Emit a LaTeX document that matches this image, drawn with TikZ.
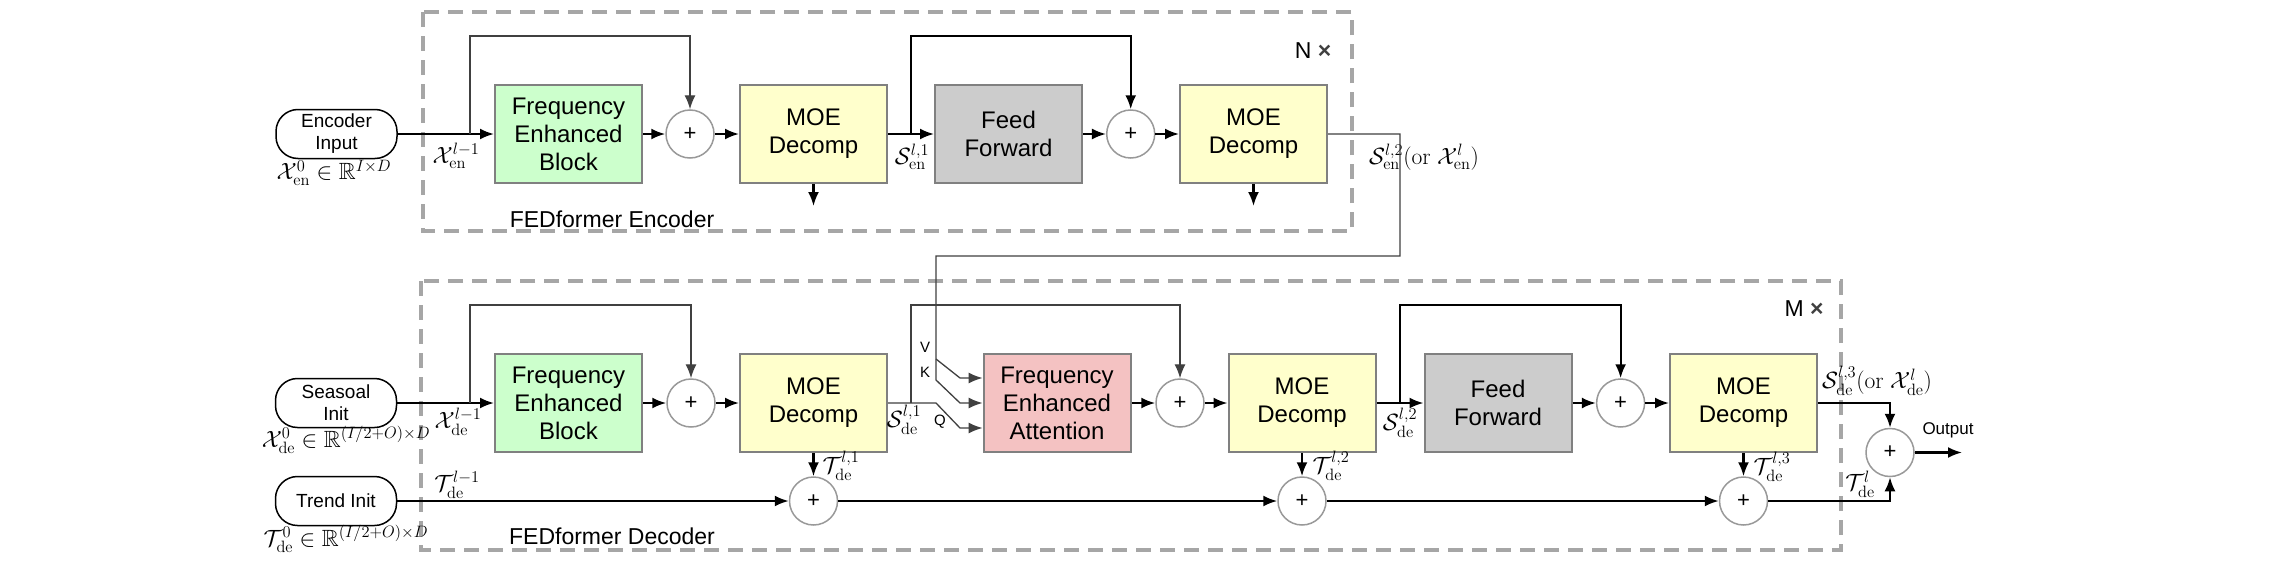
\RequirePackage{fix-cm}
\documentclass[tikz,border=0pt]{standalone}
\usepackage{amsmath}
\usepackage{amssymb}
\usepackage[no-math]{fontspec}
\setmainfont{Liberation Sans}
\usetikzlibrary{arrows.meta}
\usetikzlibrary{positioning}
\definecolor{mgreen}{RGB}{204, 255, 204}
\definecolor{myellow}{RGB}{255, 255, 204}
\definecolor{mgray}{RGB}{204, 204, 204}
\definecolor{mpink}{RGB}{244, 194, 194}
\definecolor{mdash}{RGB}{166, 166, 166}
\definecolor{medge}{RGB}{128, 128, 128}
\tikzset{block/.style = {draw=medge, line width=2pt, minimum width=147pt, minimum height=98pt,
                         inner sep=0pt, align=center, font=\fontsize{24}{28}\selectfont},
         inbox/.style = {draw, line width=1.5pt, rounded corners=22pt, minimum width=121pt,
                         minimum height=49pt, inner sep=0pt, align=center, font=\fontsize{19}{22}\selectfont},
         adder/.style = {circle, draw=medge!80, line width=1.5pt, minimum size=48pt, inner sep=0pt,
                         font=\fontsize{22}{22}\selectfont},
         flow/.style = {line width=2.2pt, -{Latex[length=14pt, width=11pt]}},
         thinflow/.style = {line width=1.3pt, draw=black!75, -{Latex[length=14pt, width=11pt]}},
         outerbox/.style = {draw=mdash, line width=3.5pt, dash pattern=on 15pt off 9pt},
         mlabel/.style = {inner sep=0pt, font=\fontsize{23.5}{27}\selectfont},
         tlabel/.style = {inner sep=0pt, font=\fontsize{23}{27}\selectfont}}

\begin{document}
\begin{tikzpicture}[x=1pt, y=-1pt]
    \useasboundingbox [fill=white] (0, 0) rectangle (2286, 562);

    \draw [outerbox] (423, 12) rectangle (1352, 231);
    \draw [outerbox] (421, 281) rectangle (1841, 550);

    % encoder
    \node [inbox] (encin) at (336.5, 134) {Encoder\\Input};
    \node [block, fill=mgreen] (feben) at (568.5, 134) {Frequency\\Enhanced\\Block};
    \node [adder] (addena) at (690, 134) {+};
    \node [block, fill=myellow] (moeena) at (813.5, 134) {MOE\\Decomp};
    \node [block, fill=mgray] (ffen) at (1008.5, 134) {Feed\\Forward};
    \node [adder] (addenb) at (1130.7, 134) {+};
    \node [block, fill=myellow] (moeenb) at (1253.5, 134) {MOE\\Decomp};

    \node [mlabel] (xenzero) at (334, 173) {$\mathcal{X}_{\mathrm{en}}^{0} \in \mathbb{R}^{I \times D}$};
    \node [mlabel] (xenprev) at (456, 156) {$\mathcal{X}_{\mathrm{en}}^{l-1}$};
    \node [mlabel] (senone) at (912, 157) {$\mathcal{S}_{\mathrm{en}}^{l,1}$};
    \node [mlabel] (sentwo) at (1424, 157) {$\mathcal{S}_{\mathrm{en}}^{l,2}(\mathrm{or}\ \mathcal{X}_{\mathrm{en}}^{l})$};
    \node [tlabel] (nrep) at (1313, 51) {N {\color{black!75}\bfseries ×}};
    \node [tlabel] (enctitle) at (612, 219) {FEDformer Encoder};

    \coordinate (skena) at (470, 134);
    \coordinate (skenb) at (910.7, 134);
    \coordinate (dropena) at (813.5, 206);
    \coordinate (dropenb) at (1253.5, 206);

    \draw [flow] (encin) -- (feben);
    \draw [flow] (feben) -- (addena);
    \draw [flow] (addena) -- (moeena);
    \draw [flow] (moeena) -- (ffen);
    \draw [flow] (ffen) -- (addenb);
    \draw [flow] (addenb) -- (moeenb);
    \draw [thinflow] (skena) -- ++(0, -98) -| (addena);
    \draw [flow] (skenb) -- ++(0, -98) -| (addenb);
    \draw [flow] (moeena) -- (dropena);
    \draw [flow] (moeenb) -- (dropenb);

    % decoder
    \node [inbox] (sein) at (336, 403) {Seasoal\\Init};
    \node [inbox] (trin) at (336, 501) {Trend Init};
    \node [block, fill=mgreen] (febde) at (568.5, 403) {Frequency\\Enhanced\\Block};
    \node [adder] (adddea) at (691, 403) {+};
    \node [block, fill=myellow] (moedea) at (813.5, 403) {MOE\\Decomp};
    \node [block, fill=mpink] (fea) at (1057, 403) {Frequency\\Enhanced\\Attention};
    \node [adder] (adddeb) at (1180, 403) {+};
    \node [block, fill=myellow] (moedeb) at (1302, 403) {MOE\\Decomp};
    \node [block, fill=mgray] (ffde) at (1498, 403) {Feed\\Forward};
    \node [adder] (adddec) at (1620.6, 403) {+};
    \node [block, fill=myellow] (moedec) at (1743.5, 403) {MOE\\Decomp};
    \node [adder] (addtra) at (813.5, 501) {+};
    \node [adder] (addtrb) at (1302, 501) {+};
    \node [adder] (addtrc) at (1743.5, 501) {+};
    \node [adder] (addout) at (1890, 452.5) {+};

    \node [mlabel] (xdezero) at (346, 440) {$\mathcal{X}_{\mathrm{de}}^{0} \in \mathbb{R}^{(I/2+O) \times D}$};
    \node [mlabel] (tdezero) at (346, 539) {$\mathcal{T}_{\mathrm{de}}^{0} \in \mathbb{R}^{(I/2+O) \times D}$};
    \node [mlabel] (xdeprev) at (458, 422) {$\mathcal{X}_{\mathrm{de}}^{l-1}$};
    \node [mlabel] (tdeprev) at (457, 485) {$\mathcal{T}_{\mathrm{de}}^{l-1}$};
    \node [mlabel] (sdeone) at (904, 420) {$\mathcal{S}_{\mathrm{de}}^{l,1}$};
    \node [mlabel] (sdetwo) at (1400, 423) {$\mathcal{S}_{\mathrm{de}}^{l,2}$};
    \node [mlabel] (sdethree) at (1877, 381) {$\mathcal{S}_{\mathrm{de}}^{l,3}(\mathrm{or}\ \mathcal{X}_{\mathrm{de}}^{l})$};
    \node [mlabel] (tdeone) at (841, 466) {$\mathcal{T}_{\mathrm{de}}^{l,1}$};
    \node [mlabel] (tdetwo) at (1331, 466) {$\mathcal{T}_{\mathrm{de}}^{l,2}$};
    \node [mlabel] (tdethree) at (1772, 467) {$\mathcal{T}_{\mathrm{de}}^{l,3}$};
    \node [mlabel] (tdelast) at (1860, 484) {$\mathcal{T}_{\mathrm{de}}^{l}$};
    \node [inner sep=0pt, font=\fontsize{15}{15}\selectfont] (vlbl) at (925, 347) {V};
    \node [inner sep=0pt, font=\fontsize{15}{15}\selectfont] (klbl) at (925, 372) {K};
    \node [inner sep=0pt, font=\fontsize{15}{15}\selectfont] (qlbl) at (940, 422) {Q};
    \node [inner sep=0pt, font=\fontsize{17}{17}\selectfont] (outlbl) at (1948, 430) {Output};
    \node [tlabel] (mrep) at (1804, 309) {M {\color{black!75}\bfseries ×}};
    \node [tlabel] (dectitle) at (612, 536) {FEDformer Decoder};

    \coordinate (skdea) at (470, 403);
    \coordinate (skdeb) at (911, 403);
    \coordinate (skdec) at (1400, 403);
    \coordinate (enout) at (1400, 134);
    \coordinate (enlow) at (1400, 256);
    \coordinate (enleft) at (936, 256);
    \coordinate (vsplit) at (936, 359);
    \coordinate (ksplit) at (936, 380);
    \coordinate (qsplit) at (936, 403);
    \coordinate (outend) at (1962, 452.5);

    \draw [flow] (sein) -- (febde);
    \draw [flow] (febde) -- (adddea);
    \draw [flow] (adddea) -- (moedea);
    \draw [flow] (fea) -- (adddeb);
    \draw [flow] (adddeb) -- (moedeb);
    \draw [flow] (moedeb) -- (ffde);
    \draw [flow] (ffde) -- (adddec);
    \draw [flow] (adddec) -- (moedec);
    \draw [thinflow] (skdea) -- ++(0, -98) -| (adddea);
    \draw [thinflow] (skdeb) -- ++(0, -98) -| (adddeb);
    \draw [flow] (skdec) -- ++(0, -98) -| (adddec);

    % encoder output into attention
    \draw [thinflow] (moeenb) -- (enout) -- (enlow) -- (enleft) -- (ksplit) -- ++(24, 23) -- (fea.west);
    \draw [thinflow] (vsplit) -- ++(24, 19) -- ([yshift=25pt]fea.west);
    \draw [thinflow] (moedea) -- (qsplit) -- ++(24, 25) -- ([yshift=-25pt]fea.west);

    % trend
    \draw [flow] (trin) -- (addtra);
    \draw [flow] (addtra) -- (addtrb);
    \draw [flow] (addtrb) -- (addtrc);
    \draw [flow] (moedea) -- (addtra);
    \draw [flow] (moedeb) -- (addtrb);
    \draw [flow] (moedec) -- (addtrc);
    \draw [flow] (addtrc) -| (addout);
    \draw [flow] (moedec) -| (addout);
    \draw [flow] (addout) -- (outend);
\end{tikzpicture}
\end{document}
